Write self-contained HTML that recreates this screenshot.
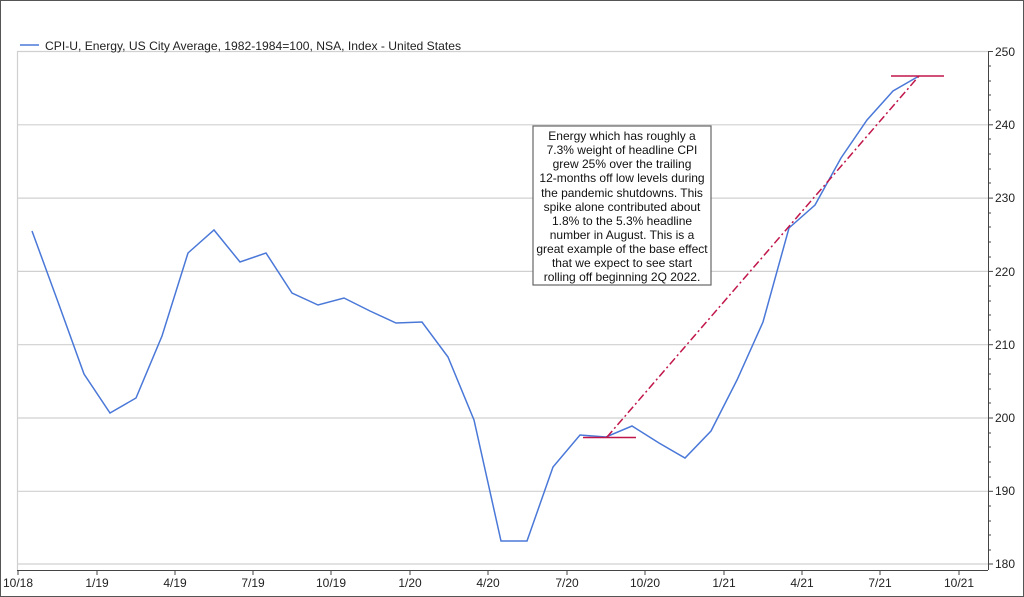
<!DOCTYPE html>
<html><head><meta charset="utf-8"><style>
html,body{margin:0;padding:0;background:#fff}
svg{display:block;font-family:"Liberation Sans",Arial,sans-serif}
</style></head><body>
<svg width="1024" height="597" viewBox="0 0 1024 597" xmlns="http://www.w3.org/2000/svg">
<rect x="0.5" y="0.5" width="1023" height="596" fill="#fff" stroke="#555" stroke-width="1"/>
<g stroke="#d0d0d0" stroke-width="1.2">
<line x1="17" y1="51.5" x2="988" y2="51.5"/>
<line x1="17" y1="124.8" x2="988" y2="124.8"/>
<line x1="17" y1="198.1" x2="988" y2="198.1"/>
<line x1="17" y1="271.4" x2="988" y2="271.4"/>
<line x1="17" y1="344.7" x2="988" y2="344.7"/>
<line x1="17" y1="418" x2="988" y2="418"/>
<line x1="17" y1="491.3" x2="988" y2="491.3"/>
<line x1="17" y1="564" x2="988" y2="564"/>
<line x1="17.5" y1="51" x2="17.5" y2="570"/>
</g>
<g stroke="#444" stroke-width="1">
<line x1="17" y1="570.5" x2="988" y2="570.5"/>
<line x1="988.5" y1="51" x2="988.5" y2="570"/>
</g>
<g stroke="#444" stroke-width="1">
<line x1="988" y1="51.5" x2="993" y2="51.5"/><line x1="988" y1="124.8" x2="993" y2="124.8"/><line x1="988" y1="198.1" x2="993" y2="198.1"/><line x1="988" y1="271.4" x2="993" y2="271.4"/><line x1="988" y1="344.7" x2="993" y2="344.7"/><line x1="988" y1="418" x2="993" y2="418"/><line x1="988" y1="491.3" x2="993" y2="491.3"/><line x1="988" y1="564" x2="993" y2="564"/>
<line x1="988" y1="66" x2="991" y2="66"/><line x1="988" y1="81" x2="991" y2="81"/><line x1="988" y1="95" x2="991" y2="95"/><line x1="988" y1="110" x2="991" y2="110"/>
<line x1="988" y1="139" x2="991" y2="139"/><line x1="988" y1="154" x2="991" y2="154"/><line x1="988" y1="169" x2="991" y2="169"/><line x1="988" y1="183" x2="991" y2="183"/>
<line x1="988" y1="213" x2="991" y2="213"/><line x1="988" y1="227" x2="991" y2="227"/><line x1="988" y1="242" x2="991" y2="242"/><line x1="988" y1="257" x2="991" y2="257"/>
<line x1="988" y1="286" x2="991" y2="286"/><line x1="988" y1="301" x2="991" y2="301"/><line x1="988" y1="315" x2="991" y2="315"/><line x1="988" y1="330" x2="991" y2="330"/>
<line x1="988" y1="359" x2="991" y2="359"/><line x1="988" y1="374" x2="991" y2="374"/><line x1="988" y1="389" x2="991" y2="389"/><line x1="988" y1="403" x2="991" y2="403"/>
<line x1="988" y1="433" x2="991" y2="433"/><line x1="988" y1="447" x2="991" y2="447"/><line x1="988" y1="462" x2="991" y2="462"/><line x1="988" y1="477" x2="991" y2="477"/>
<line x1="988" y1="506" x2="991" y2="506"/><line x1="988" y1="521" x2="991" y2="521"/><line x1="988" y1="535" x2="991" y2="535"/><line x1="988" y1="550" x2="991" y2="550"/>
</g>
<g stroke="#444" stroke-width="1">
<line x1="18" y1="570" x2="18" y2="575"/><line x1="97" y1="570" x2="97" y2="575"/><line x1="175" y1="570" x2="175" y2="575"/><line x1="253" y1="570" x2="253" y2="575"/><line x1="331" y1="570" x2="331" y2="575"/><line x1="410" y1="570" x2="410" y2="575"/><line x1="488" y1="570" x2="488" y2="575"/><line x1="567" y1="570" x2="567" y2="575"/><line x1="645" y1="570" x2="645" y2="575"/><line x1="724" y1="570" x2="724" y2="575"/><line x1="802" y1="570" x2="802" y2="575"/><line x1="880" y1="570" x2="880" y2="575"/><line x1="959" y1="570" x2="959" y2="575"/>
</g>
<g font-size="12" fill="#222" text-anchor="middle">
<text x="18" y="587">10/18</text><text x="97" y="587">1/19</text><text x="175" y="587">4/19</text><text x="253" y="587">7/19</text><text x="331" y="587">10/19</text><text x="410" y="587">1/20</text><text x="488" y="587">4/20</text><text x="567" y="587">7/20</text><text x="645" y="587">10/20</text><text x="724" y="587">1/21</text><text x="802" y="587">4/21</text><text x="880" y="587">7/21</text><text x="959" y="587">10/21</text>
</g>
<g font-size="12" fill="#222">
<text x="995" y="56">250</text><text x="995" y="129">240</text><text x="995" y="202">230</text><text x="995" y="276">220</text><text x="995" y="349">210</text><text x="995" y="422">200</text><text x="995" y="495">190</text><text x="995" y="568">180</text>
</g>
<line x1="20" y1="45" x2="39" y2="45" stroke="#4a78d8" stroke-width="1.5"/>
<text x="45" y="50" font-size="12" fill="#222" textLength="416" lengthAdjust="spacingAndGlyphs">CPI-U, Energy, US City Average, 1982-1984=100, NSA, Index - United States</text>
<polyline fill="none" stroke="#4a78d8" stroke-width="1.5" points="32,231 58,302 84,374 110,413 136,398 162,336 188,253 214,230 240,262 266,253 292,293 318,305 344,298 370,311 396,323 422,322 448,357 474,420 501,541 527,541 553,467 580,435 606,437 632,426 659,443 685,458 711,431 737,380 763,322 789,228 815,205 841,158 867,120 893,91 919,76"/>
<g stroke="#c0164a" stroke-width="1.5">
<line x1="583" y1="437.5" x2="636" y2="437.5"/>
<line x1="891" y1="76" x2="944" y2="76"/>
<line x1="607" y1="437" x2="919" y2="76" stroke-dasharray="8,3,2,3"/>
</g>
<rect x="533" y="126" width="178" height="159" fill="#fff" stroke="#666" stroke-width="1.2"/>
<g font-size="12" fill="#111" text-anchor="middle">
<text x="622" y="140">Energy which has roughly a</text>
<text x="622" y="154">7.3% weight of headline CPI</text>
<text x="622" y="168">grew 25% over the trailing</text>
<text x="622" y="182">12-months off low levels during</text>
<text x="622" y="197">the pandemic shutdowns. This</text>
<text x="622" y="211">spike alone contributed about</text>
<text x="622" y="225">1.8% to the 5.3% headline</text>
<text x="622" y="239">number in August. This is a</text>
<text x="622" y="253">great example of the base effect</text>
<text x="622" y="267">that we expect to see start</text>
<text x="622" y="281">rolling off beginning 2Q 2022.</text>
</g>
</svg>
</body></html>
